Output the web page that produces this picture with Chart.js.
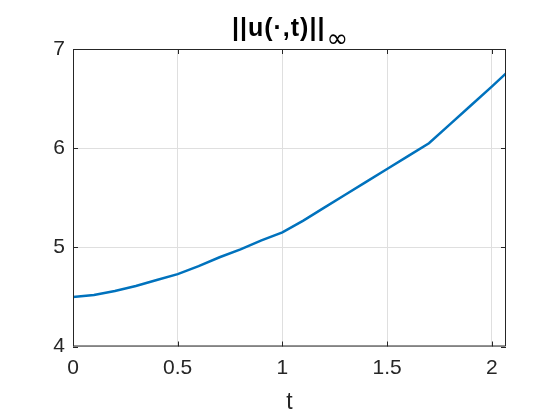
<!DOCTYPE html>
<html>
<head>
<meta charset="utf-8">
<script src="https://cdn.jsdelivr.net/npm/chart.js@4"></script>
<style>
  html, body { margin: 0; padding: 0; background: #fff; }
  #wrap { position: relative; width: 560px; height: 420px; }
  #title {
    position: absolute; left: 0; width: 580px; top: 13px;
    text-align: center; font: bold 25px "Liberation Sans", Arial, sans-serif; color: #000;
    letter-spacing: 1px; line-height: 29px; white-space: nowrap;
  }
  #title .sub {
    font: normal 26px "DejaVu Sans", sans-serif; letter-spacing: 0;
    vertical-align: -11px; line-height: 0; margin-left: 1px;
  }
</style>
</head>
<body>
<div id="wrap">
  <canvas id="normChart" width="560" height="420"></canvas>
  <div id="title">||u(·,t)||<span class="sub">∞</span></div>
</div>
<script>
// values
const tValues = [0, 0.1, 0.2, 0.3, 0.4, 0.5, 0.6, 0.7, 0.8, 0.9, 1.0, 1.1, 1.2, 1.3, 1.4, 1.5, 1.6, 1.7, 1.8, 1.9, 2.0, 2.068];
const normValues = [4.50, 4.52, 4.56, 4.61, 4.67, 4.73, 4.81, 4.90, 4.98, 5.07, 5.15, 5.27, 5.40, 5.53, 5.66, 5.79, 5.92, 6.05, 6.24, 6.43, 6.62, 6.755];
const xTicks = [0, 0.5, 1, 1.5, 2];
const yTicks = [4, 5, 6, 7];

const axisColor = '#262626';
const gridColor = '#dfdfdf';
const tickFont = { family: '"Liberation Sans", Arial, sans-serif', size: 21 };

// MATLAB-style box with inward ticks
const boxPlugin = {
  id: 'box',
  afterDraw(chart) {
    const { ctx, chartArea: a, scales } = chart;
    ctx.save();
    ctx.strokeStyle = axisColor;
    ctx.lineWidth = 1;
    ctx.beginPath();
    ctx.rect(a.left + 0.5, a.top + 0.5, a.right - a.left - 1, a.bottom - a.top - 1);
    xTicks.forEach(v => {
      const x = Math.round(scales.x.getPixelForValue(v)) + 0.5;
      ctx.moveTo(x, a.bottom); ctx.lineTo(x, a.bottom - 5);
      ctx.moveTo(x, a.top); ctx.lineTo(x, a.top + 5);
    });
    yTicks.forEach(v => {
      const y = Math.round(scales.y.getPixelForValue(v)) + 0.5;
      ctx.moveTo(a.left, y); ctx.lineTo(a.left + 5, y);
      ctx.moveTo(a.right, y); ctx.lineTo(a.right - 5, y);
    });
    ctx.stroke();
    ctx.restore();
  }
};

const ctx = document.getElementById('normChart').getContext('2d');
const normChart = new Chart(ctx, {
  type: 'line',
  data: {
    datasets: [{
      data: tValues.map((t, i) => ({ x: t, y: normValues[i] })),
      borderColor: '#0072BD',
      borderWidth: 2.5,
      pointRadius: 0,
      fill: false,
      tension: 0
    }]
  },
  options: {
    responsive: false,
    animation: false,
    layout: { padding: { top: 49, right: 54, left: 0, bottom: 0 } },
    plugins: { legend: { display: false }, tooltip: { enabled: false } },
    scales: {
      x: {
        type: 'linear',
        min: 0,
        max: 2.068,
        afterBuildTicks: s => { s.ticks = xTicks.map(v => ({ value: v })); },
        afterFit: s => { s.height = 73.5; },
        grid: { color: gridColor, drawTicks: false },
        border: { display: false },
        ticks: { color: axisColor, font: tickFont, padding: 9, callback: v => String(v), maxRotation: 0 },
        title: { display: true, text: 't', color: axisColor, font: { family: tickFont.family, size: 23 }, padding: { top: 11 } }
      },
      y: {
        min: 4,
        max: 7,
        afterBuildTicks: s => { s.ticks = yTicks.map(v => ({ value: v })); },
        afterFit: s => { s.width = 73; },
        grid: { color: gridColor, drawTicks: false },
        border: { display: false },
        ticks: { color: axisColor, font: tickFont, padding: 8, callback: v => String(v) }
      }
    }
  },
  plugins: [boxPlugin]
});
</script>
</body>
</html>
